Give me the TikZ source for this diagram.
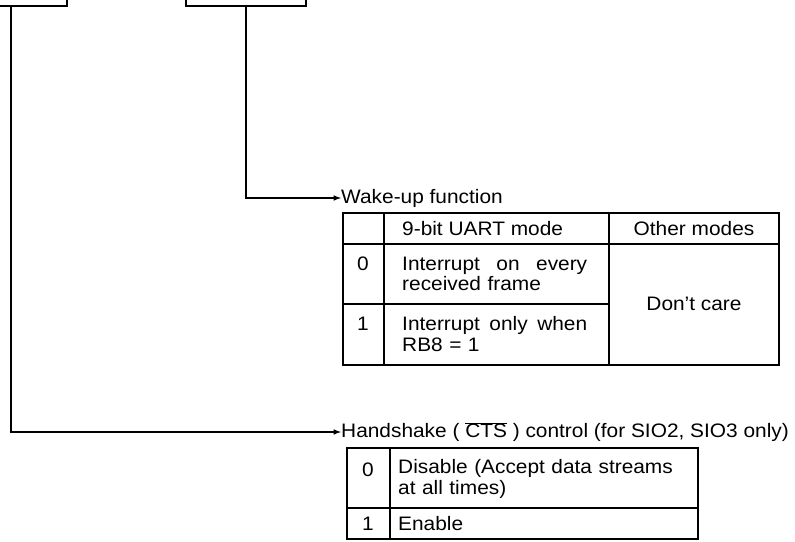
\documentclass[tikz,border=0pt]{standalone}
\usepackage{fontspec}
\setmainfont{Liberation Sans}[FakeStretch=1.07]

\begin{document}
\begin{tikzpicture}[x=1pt, y=-1pt,
    field/.style = {rectangle, draw, line width=1.8pt, minimum width=120pt, minimum height=40pt},
    lbl/.style = {inner sep=0pt, font=\fontsize{19.5}{20.5}\selectfont},
    cell/.style = {lbl, align=left, text width=185pt},
    arrow/.style = {draw, -latex, line width=1.5pt},
    grid/.style = {line width=1.8pt}
]
    \useasboundingbox (0,0) rectangle (795,541);
    \clip (0,0) rectangle (795,541);

    % register fields, cut off at the top edge
    \node[field, minimum width=112pt] (ctsfield) at (11,-14) {};
    \node[field] (wakefield) at (246,-14) {};

    \node[lbl, anchor=west] (wake) at (341,198) {Wake-up function};
    \node[lbl, anchor=west] (hshake) at (341,432) {Handshake ( $\overline{\mbox{CTS}}$ ) control (for SIO2, SIO3 only)};

    \path[arrow] (wakefield.south) |- (wake.west);
    \path[arrow] (ctsfield.south) |- (hshake.west);

    % wake-up table
    \draw[grid] (343,213) rectangle (779,365);
    \draw[grid] (343,244) -- (779,244);
    \draw[grid] (384,213) -- (384,365);
    \draw[grid] (609,213) -- (609,365);
    \draw[grid] (343,304) -- (609,304);
    \node[lbl, anchor=west] (uarthead) at (402,229) {9-bit UART mode};
    \node[lbl] (otherhead) at (694,229) {Other modes};
    \node[lbl] (wzero) at (363,264) {0};
    \node[cell, anchor=west] (wzerotxt) at (402,274) {\makebox[185pt]{Interrupt\hfill on\hfill every}\\received frame};
    \node[lbl] (wone) at (363,324) {1};
    \node[cell, anchor=west] (wonetxt) at (402,334) {\makebox[185pt]{Interrupt\hfill only\hfill when}\\RB8 = 1};
    \node[lbl] (dontcare) at (694,304) {Don’t care};

    % handshake table
    \draw[grid] (347,448) rectangle (698,539);
    \draw[grid] (390,448) -- (390,539);
    \draw[grid] (347,508) -- (698,508);
    \node[lbl] (hzero) at (368,470) {0};
    \node[cell, anchor=west, text width=290pt] (hzerotxt) at (398,479) {Disable (Accept data streams\\at all times)};
    \node[lbl] (hone) at (368,524) {1};
    \node[lbl, anchor=west] (honetxt) at (398,524) {Enable};
\end{tikzpicture}
\end{document}
